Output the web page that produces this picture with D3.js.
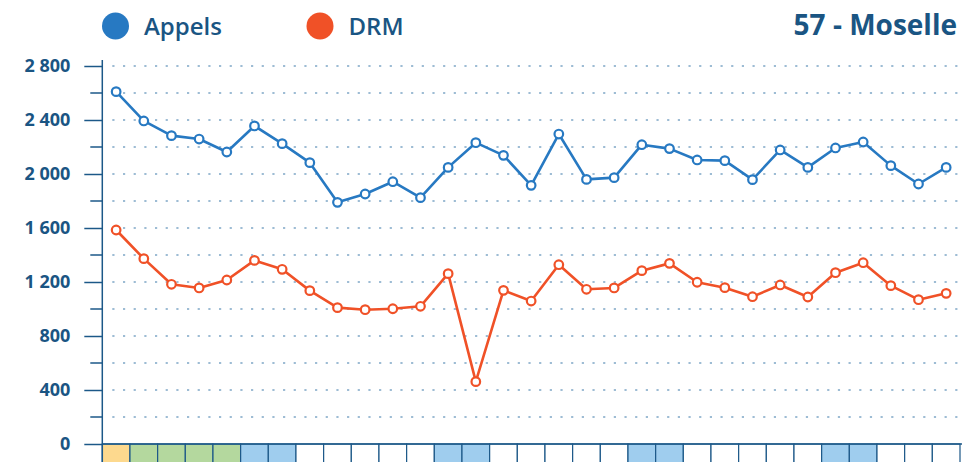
<!DOCTYPE html>
<html><head><meta charset="utf-8">
<script src="https://cdn.jsdelivr.net/npm/d3@7/dist/d3.min.js"></script>
<style>
html,body{margin:0;padding:0;background:#fff;}
svg{display:block;}
text{font-family:"Open Sans",sans-serif;}
</style></head>
<body>
<svg id="chart" width="962" height="462"></svg>
<script>
const days = d3.range(31);
const appels = [2610,2393,2284,2259,2163,2356,2225,2084,1790,1852,1943,1825,2049,2232,2138,1916,2296,1960,1973,2217,2188,2104,2099,1958,2178,2049,2193,2237,2062,1926,2049];
const drm = [1585,1373,1183,1156,1215,1360,1294,1136,1010,995,1002,1020,1262,462,1138,1059,1328,1146,1156,1284,1338,1198,1158,1091,1178,1089,1269,1343,1173,1069,1116];
const dayTypes = ["ferie","vac","vac","vac","vac","we","we","","","","","","we","we","","","","","","we","we","","","","","","we","we","","",""];
const yTicks = [0,400,800,1200,1600,2000,2400,2800];
const seriesNames = ["Appels","DRM"];
const title = "57 - Moselle";

(function(){
const colors = {Appels:"#2779c2", DRM:"#f05127"};
const cellFill = {ferie:"#fdd98e", vac:"#b4d89e", we:"#9fcdee", "":"#ffffff"};
const axisColor = "#1c5888";
const textColor = "#1a5583";

const svg = d3.select("#chart");
const mLeft = 102.3, mRight = 960, mTop = 66, mBottom = 444;
const x = d3.scaleBand().domain(days).range([mLeft, mRight]).padding(0);
const y = d3.scaleLinear().domain([0, 2800]).range([mBottom, mTop]);

// grid lines
const gridVals = d3.range(200, 2801, 200);
svg.append("g").selectAll("line").data(gridVals).join("line")
  .attr("x1", mLeft + 10).attr("x2", 962)
  .attr("y1", d => y(d)).attr("y2", d => y(d))
  .attr("stroke", "#7ea6c6").attr("stroke-width", 1.3)
  .attr("stroke-dasharray", "2.2,8.47");

// day cells
svg.append("g").selectAll("rect").data(days).join("rect")
  .attr("x", d => x(d)).attr("y", mBottom)
  .attr("width", x.bandwidth()).attr("height", 24)
  .attr("fill", d => cellFill[dayTypes[d]])
  .attr("stroke", axisColor).attr("stroke-width", 1.2);

// y axis
const yAxis = d3.axisLeft(y).tickValues(yTicks).tickSize(18).tickPadding(14)
  .tickFormat(d => d3.format(",")(d).replace(/,/g, " "));
const gy = svg.append("g").attr("transform", `translate(${mLeft},0)`).call(yAxis);
gy.select(".domain").remove();
gy.selectAll(".tick line").attr("stroke", axisColor).attr("stroke-width", 1.5);
gy.selectAll(".tick text").attr("fill", textColor).attr("font-size", 18).attr("font-weight", 700)
  .attr("font-family", "'Open Sans', sans-serif");
// minor ticks
svg.append("g").selectAll("line").data(d3.range(200, 2800, 400)).join("line")
  .attr("x1", mLeft - 12).attr("x2", mLeft)
  .attr("y1", d => y(d)).attr("y2", d => y(d))
  .attr("stroke", axisColor).attr("stroke-width", 1.5);
// axis lines
svg.append("line").attr("x1", mLeft).attr("x2", mLeft).attr("y1", mTop - 6).attr("y2", 462)
  .attr("stroke", axisColor).attr("stroke-width", 1.5);
svg.append("line").attr("x1", mLeft).attr("x2", 962).attr("y1", mBottom).attr("y2", mBottom)
  .attr("stroke", axisColor).attr("stroke-width", 1.5);

// series
const line = d3.line().x((d, i) => x(i) + x.bandwidth() / 2).y(d => y(d));
[["Appels", appels], ["DRM", drm]].forEach(([name, vals]) => {
  const g = svg.append("g");
  g.append("path").datum(vals).attr("d", line).attr("fill", "none")
    .attr("stroke", colors[name]).attr("stroke-width", 2.6).attr("stroke-linejoin", "round");
  g.selectAll("circle").data(vals).join("circle")
    .attr("cx", (d, i) => x(i) + x.bandwidth() / 2).attr("cy", d => y(d))
    .attr("r", 4.3).attr("fill", "#fff").attr("stroke", colors[name]).attr("stroke-width", 2.2);
});

// legend
const legX = [115.5, 320];
seriesNames.forEach((n, i) => {
  svg.append("circle").attr("cx", legX[i]).attr("cy", 26).attr("r", 13.5).attr("fill", colors[n]);
  svg.append("text").attr("x", legX[i] + 28.5).attr("y", 35).text(n)
    .attr("fill", textColor).attr("font-size", 24).attr("font-weight", 600);
});

// title
svg.append("text").attr("x", 957).attr("y", 35).attr("text-anchor", "end").text(title)
  .attr("fill", textColor).attr("font-size", 28).attr("font-weight", 700)
  .attr("font-family", "'Lato', sans-serif");
})();
</script>
</body></html>
